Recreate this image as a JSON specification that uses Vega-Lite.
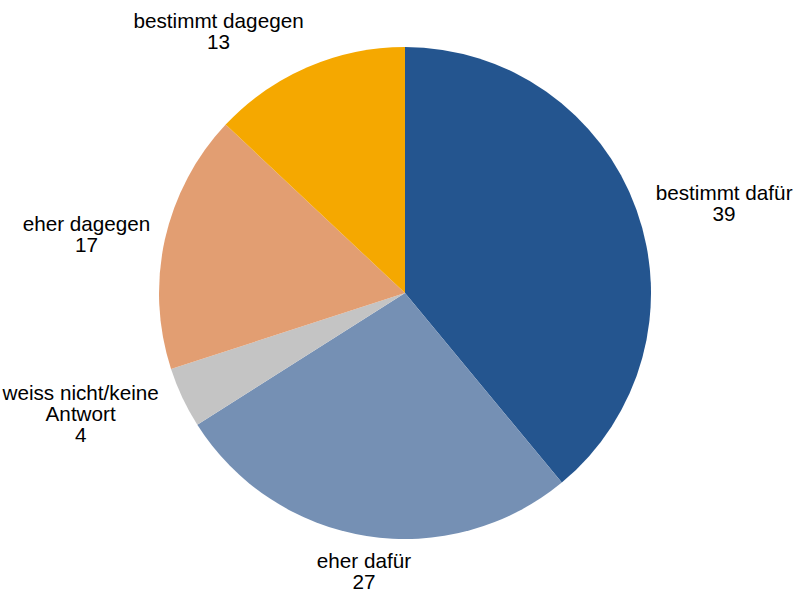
{
  "$schema": "https://vega.github.io/schema/vega-lite/v6.json",
  "width": 780,
  "height": 586,
  "autosize": {"type": "none"},
  "padding": {"left": 15, "top": 0, "right": 0, "bottom": 8},
  "background": "white",
  "config": {"view": {"stroke": null}, "font": "Liberation Sans"},
  "data": {
    "values": [
      {"category": "bestimmt dafür", "label": "bestimmt dafür\n39", "value": 39, "order": 1},
      {"category": "eher dafür", "label": "eher dafür\n27", "value": 27, "order": 2},
      {"category": "weiss nicht/keine Antwort", "label": "weiss nicht/keine\nAntwort\n4", "value": 4, "order": 3},
      {"category": "eher dagegen", "label": "eher dagegen\n17", "value": 17, "order": 4},
      {"category": "bestimmt dagegen", "label": "bestimmt dagegen\n13", "value": 13, "order": 5}
    ]
  },
  "encoding": {
    "theta": {"field": "value", "type": "quantitative", "stack": true},
    "order": {"field": "order", "type": "quantitative"}
  },
  "layer": [
    {
      "mark": {"type": "arc", "outerRadius": 246},
      "encoding": {
        "color": {
          "field": "category",
          "type": "nominal",
          "legend": null,
          "scale": {
            "domain": ["bestimmt dafür", "eher dafür", "weiss nicht/keine Antwort", "eher dagegen", "bestimmt dagegen"],
            "range": ["#24558F", "#7590B4", "#C4C4C4", "#E29E72", "#F5A800"]
          }
        }
      }
    },
    {
      "mark": {
        "type": "text",
        "radius": 262,
        "fontSize": 20.7,
        "lineBreak": "\n",
        "lineHeight": 21,
        "align": "center",
        "color": "#000000",
        "baseline": {"expr": "cos(scale('theta', (datum.value_start + datum.value_end) / 2)) > 0.7 ? 'bottom' : (cos(scale('theta', (datum.value_start + datum.value_end) / 2)) < -0.7 ? 'top' : 'middle')"},
        "dx": {"expr": "(sin(scale('theta', (datum.value_start + datum.value_end) / 2)) > 0.3 ? 1 : (sin(scale('theta', (datum.value_start + datum.value_end) / 2)) < -0.3 ? -1 : 0)) * (4.9 * length(split(datum.label, '\\n')[0]) + 4)"},
        "dy": {"expr": "cos(scale('theta', (datum.value_start + datum.value_end) / 2)) > 0.7 ? -21 * (length(split(datum.label, '\\n')) - 1) : (cos(scale('theta', (datum.value_start + datum.value_end) / 2)) < -0.7 ? 0 : -10.5)"}
      },
      "encoding": {
        "text": {"field": "label", "type": "nominal"}
      }
    }
  ]
}
